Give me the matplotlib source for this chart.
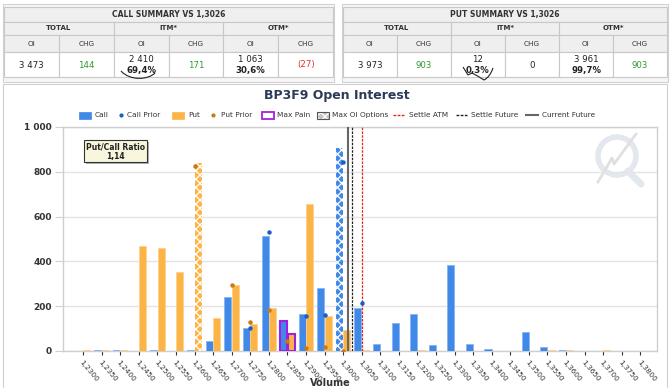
import matplotlib
matplotlib.use('Agg')
import matplotlib.pyplot as plt
import numpy as np
from matplotlib.patches import Rectangle, Circle, PathPatch
from matplotlib.path import Path
from matplotlib.ticker import FuncFormatter

plt.rcParams['font.family'] = ['DejaVu Sans']
plt.rcParams['hatch.linewidth'] = 0.9

# ---- data ----
strikes = [1.2300 + 0.005 * i for i in range(31)]
calls = [0, 3, 3, 0, 5, 0, 5, 46, 243, 104, 515, 136, 164, 281, 906, 191,
         31, 124, 163, 27, 382, 31, 7, 0, 87, 18, 4, 0, 0, 0, 0]
puts = [3, 3, 3, 468, 462, 354, 838, 146, 296, 121, 190, 76, 656, 156, 93, 6,
        0, 0, 3, 0, 0, 0, 0, 0, 0, 3, 3, 0, 3, 0, 0]
nan = np.nan
call_prior = [nan] * 9 + [104, 530, nan, 157, 161, 845, 216] + [nan] * 15
put_prior = [nan] * 6 + [827, nan, 296, 128, 181, 43, 13, 19, 0] + [nan] * 16
max_pain = 1.2850
settle_atm = 1.3050
settle_future = 1.3024
current_future = 1.3013
put_call_ratio = '1,14'

call_summary = ['3 473', '144', '2 410', '69,4%', '171', '1 063', '30,6%', '(27)']
put_summary = ['3 973', '903', '12', '0,3%', '0', '3 961', '99,7%', '903']

CALL = '#4189e8'
PUT = '#fdb446'
GREEN = '#2e9a2e'
RED = '#e03030'


def pos(p):
    return (p - strikes[0]) / 0.005


fig = plt.figure(figsize=(6.7, 3.88), dpi=100)
bg = fig.add_axes([0, 0, 1, 1])
bg.set_xlim(0, 670)
bg.set_ylim(388, 0)
bg.axis('off')


def cell(x0, y0, x1, y1, fc):
    bg.add_patch(Rectangle((x0, y0), x1 - x0, y1 - y0, fc=fc, ec='#c8c8c8', lw=0.8))


def draw_table(x0, x1, title, vals):
    bg.add_patch(Rectangle((x0 - 1, 4), x1 - x0 + 2, 78, fc='#f6f6f6', ec='#d2d2d2', lw=0.8))
    w = (x1 - x0) / 6.0
    cell(x0, 7, x1, 22, '#efefef')
    bg.text((x0 + x1) / 2, 14.5, title, ha='center', va='center', fontsize=5.5, fontweight='bold', color='#333333')
    for g, name in enumerate(['TOTAL', 'ITM*', 'OTM*']):
        cell(x0 + 2 * g * w, 22, x0 + (2 * g + 2) * w, 35, '#efefef')
        bg.text(x0 + (2 * g + 1) * w, 28.5, name, ha='center', va='center', fontsize=5, fontweight='bold', color='#333333')
    for c in range(6):
        cell(x0 + c * w, 35, x0 + (c + 1) * w, 52, '#efefef')
        bg.text(x0 + (c + 0.5) * w, 43.5, ['OI', 'CHG'][c % 2], ha='center', va='center', fontsize=5.2, color='#333333')
        cell(x0 + c * w, 52, x0 + (c + 1) * w, 77, 'white')

    def chg_color(s):
        if s.startswith('('):
            return RED
        if s == '0':
            return '#222222'
        return GREEN
    xc = [x0 + (c + 0.5) * w for c in range(6)]
    bg.text(xc[0], 65, vals[0], ha='center', va='center', fontsize=6.2, color='#222222')
    bg.text(xc[1], 65, vals[1], ha='center', va='center', fontsize=6.2, color=chg_color(vals[1]))
    bg.text(xc[2], 59.5, vals[2], ha='center', va='center', fontsize=6.2, color='#222222')
    bg.text(xc[2], 70, vals[3], ha='center', va='center', fontsize=6.2, fontweight='bold', color='#222222')
    bg.text(xc[3], 65, vals[4], ha='center', va='center', fontsize=6.2, color=chg_color(vals[4]))
    bg.text(xc[4], 59.5, vals[5], ha='center', va='center', fontsize=6.2, color='#222222')
    bg.text(xc[4], 70, vals[6], ha='center', va='center', fontsize=6.2, fontweight='bold', color='#222222')
    bg.text(xc[5], 65, vals[7], ha='center', va='center', fontsize=6.2, color=chg_color(vals[7]))


draw_table(4, 333, 'CALL SUMMARY VS 1,3026', call_summary)
draw_table(343, 667, 'PUT SUMMARY VS 1,3026', put_summary)

# hand drawn marks under the ITM percentages
bg.add_patch(PathPatch(Path([(121, 71), (130, 81), (148, 80), (155, 73)],
                            [Path.MOVETO, Path.CURVE4, Path.CURVE4, Path.CURVE4]),
                       fc='none', ec='#222222', lw=0.8))
bg.add_patch(PathPatch(Path([(463, 67), (468, 75), (472, 73), (478, 76), (484, 80), (490, 77), (493, 68)],
                            [Path.MOVETO, Path.LINETO, Path.LINETO, Path.CURVE3, Path.CURVE3, Path.CURVE3, Path.CURVE3]),
                       fc='none', ec='#222222', lw=0.8))

# chart panel frame
bg.add_patch(Rectangle((3, 84), 664, 320, fc='white', ec='#cfcfcf', lw=0.8))
bg.text(337, 96, 'BP3F9 Open Interest', ha='center', va='center', fontsize=9, fontweight='bold', color='#2c3a57')

# legend
ly = 115
fs = 5.3
tc = '#333333'
bg.add_patch(Rectangle((79, ly - 3.5), 12, 7, fc=CALL, ec=CALL, lw=0.5))
bg.text(95, ly, 'Call', va='center', fontsize=fs, color=tc)
bg.plot([121], [ly], 'o', ms=2, color='#1a5fc8')
bg.text(127, ly, 'Call Prior', va='center', fontsize=fs, color=tc)
bg.add_patch(Rectangle((172, ly - 3.5), 12, 7, fc=PUT, ec=PUT, lw=0.5))
bg.text(188, ly, 'Put', va='center', fontsize=fs, color=tc)
bg.plot([213], [ly], 'o', ms=2, color='#c97a16')
bg.text(221, ly, 'Put Prior', va='center', fontsize=fs, color=tc)
bg.add_patch(Rectangle((262, ly - 3.5), 12, 7, fc='white', ec='#a020e0', lw=1.3))
bg.text(277, ly, 'Max Pain', va='center', fontsize=fs, color=tc)
bg.add_patch(Rectangle((317, ly - 3.5), 12, 7, fc='#c4c4c4', lw=0))
bg.add_patch(Rectangle((317, ly - 3.5), 12, 7, fill=False, ec='white', lw=0, hatch='xxxx'))
bg.add_patch(Rectangle((317, ly - 3.5), 12, 7, fc='none', ec='#555555', lw=0.8))
bg.text(332, ly, 'Max OI Options', va='center', fontsize=fs, color=tc)
bg.plot([393, 404], [ly, ly], color='#e82020', lw=1, ls=(0, (2, 1)))
bg.text(409, ly, 'Settle ATM', va='center', fontsize=fs, color=tc)
bg.plot([456, 467], [ly, ly], color='#222222', lw=1, ls=(0, (2, 1)))
bg.text(471, ly, 'Settle Future', va='center', fontsize=fs, color=tc)
bg.plot([526, 538], [ly, ly], color='#666666', lw=1.5)
bg.text(542, ly, 'Current Future', va='center', fontsize=fs, color=tc)

# faint watermark
bg.add_patch(Circle((617, 156), 19, fc='none', ec='#e3e7ee', lw=4))
bg.plot([628, 641], [171, 184], color='#e3e7ee', lw=5, solid_capstyle='round')
bg.plot([598, 612, 614, 636], [182, 158, 164, 134], color='#e0e0e0', lw=2)

bg.text(330, 387.5, 'Volume', ha='center', va='bottom', fontsize=7, fontweight='bold', color='#333333')

# ---- main chart ----
ax = fig.add_axes([63 / 670, 37 / 388, 594 / 670, 224 / 388])
ax.patch.set_alpha(0)
x = np.arange(len(strikes))
bw = 0.38
max_call = int(np.argmax(calls))
max_put = int(np.argmax(puts))
mp = int(round(pos(max_pain)))

for i in x:
    for val, off, col, edge, mx in [(calls[i], -0.2, CALL, '#86b5f2', max_call),
                                    (puts[i], 0.2, PUT, '#fed08d', max_put)]:
        if val <= 0:
            continue
        if i == mx:
            ax.bar(i + off, val, bw, color=col, lw=0, zorder=3)
            ax.bar(i + off, val, bw, fill=False, edgecolor='white', lw=0, hatch='xxxx', zorder=3)
        elif i == mp:
            ax.bar(i + off, val, bw, color=col, edgecolor='#a020e0', lw=1.5, zorder=3)
        else:
            ax.bar(i + off, val, bw, color=col, edgecolor=edge, lw=0.6, zorder=3)

ax.plot(x, call_prior, 'o', ms=2.2, color='#1a5fc8', zorder=5)
ax.plot(x, put_prior, 'o', ms=2.2, color='#c97a16', zorder=5)

ax.axvline(pos(current_future), color='#666666', lw=1.5, zorder=4)
ax.axvline(pos(settle_future), color='#222222', lw=0.9, ls=(0, (2, 1)), zorder=4)
ax.axvline(pos(settle_atm), color='#e82020', lw=0.9, ls=(0, (2, 1)), zorder=4)

ax.set_xlim(-1.08, 30.9)
ax.set_ylim(0, 1000)
ax.set_yticks(range(0, 1001, 200))
ax.yaxis.set_major_formatter(FuncFormatter(lambda v, p: f'{int(v):,}'.replace(',', ' ')))
ax.grid(axis='y', color='#e4e4e4', lw=1, zorder=0)
ax.set_xticks(x)
ax.set_xticklabels([f'{s:.4f}'.replace('.', ',') for s in strikes], rotation=-50,
                   ha='left', rotation_mode='anchor', fontsize=5.3, color='#333333')
for lab in ax.get_yticklabels():
    lab.set_fontsize(6.5)
    lab.set_fontweight('bold')
    lab.set_color('#333333')
ax.tick_params(axis='x', length=3, color='#333333', pad=3)
ax.tick_params(axis='y', length=6, color='#d0d0d0', pad=2)
for s in ax.spines.values():
    s.set_color('#cfcfcf')
    s.set_linewidth(1)

# put/call ratio box
bg.add_patch(Rectangle((86, 142), 63, 22, fc='#b0b0b0', ec='none', zorder=6))
bg.add_patch(Rectangle((84, 140), 63, 22, fc='#f8f6dc', ec='#333333', lw=0.8, zorder=7))
bg.text(115.5, 146.5, 'Put/Call Ratio', ha='center', va='center', fontsize=5.5, fontweight='bold', color='#222222', zorder=8)
bg.text(115.5, 156, put_call_ratio, ha='center', va='center', fontsize=5.5, fontweight='bold', color='#222222', zorder=8)

fig.savefig('out.png', dpi=100)
